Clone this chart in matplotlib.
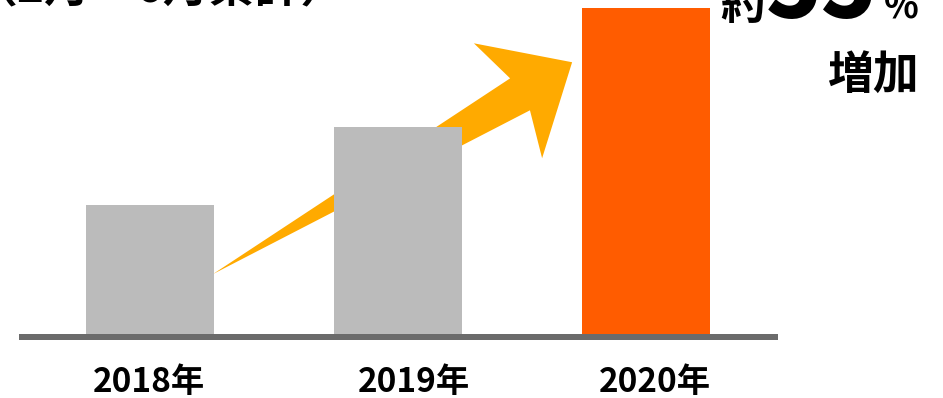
import matplotlib
matplotlib.use("Agg")
import matplotlib.pyplot as plt
from matplotlib.patches import Polygon
from matplotlib.transforms import ScaledTranslation

plt.rcParams['font.family'] = ['Noto Sans CJK JP', 'DejaVu Sans']

# data
years = ["2018年", "2019年", "2020年"]
values = [100, 161, 253]
bar_colors = ["#BBBBBB", "#BBBBBB", "#FF5C00"]
title = "（2月〜6月累計）"
growth_prefix = "約"
growth_number = "55"
growth_unit = "%"
growth_word = "増加"

W, H = 943, 398
fig = plt.figure(figsize=(W / 100, H / 100), dpi=100)


def fx(px):
    return px / W


def fy(py):
    return 1 - py / H


# axes spans the baseline (y=334 px) up to the tallest bar top (y=8 px)
ax = fig.add_axes([fx(22), fy(334), fx(775 - 22), (334 - 8) / H])
x = list(range(len(years)))
ax.bar(x, values, width=0.516, color=bar_colors, zorder=3)
ax.set_xlim(-0.516, 2.52)
ax.set_ylim(0, max(values))

for s in ("top", "right", "left"):
    ax.spines[s].set_visible(False)
ax.spines["bottom"].set_color("#6B6B6B")
ax.spines["bottom"].set_linewidth(6 * 0.72)
ax.spines["bottom"].set_position(("outward", 3 * 0.72))
ax.spines["bottom"].set_zorder(4)
ax.set_yticks([])
ax.set_xticks(x)
ax.set_xticklabels(years, fontsize=24, fontweight="bold")
ax.tick_params(axis="x", length=0, pad=21)

# small horizontal nudges of the year labels (pixels)
label_shift_px = [-1, 16, 9]
for lbl, dx in zip(ax.get_xticklabels(), label_shift_px):
    lbl.set_transform(lbl.get_transform()
                      + ScaledTranslation(dx / 100, 0, fig.dpi_scale_trans))

# rising arrow from the 2018 bar towards the 2020 bar (axes data units)
arrow_shape = [
    (0.254, 46.5),   # tail point
    (1.452, 198.4),  # upper notch
    (1.306, 225.6),  # upper barb
    (1.702, 210.9),  # tip
    (1.581, 136.4),  # lower barb
    (1.532, 173.6),  # lower notch
]
ax.add_patch(Polygon(arrow_shape, closed=True, facecolor="#FFAA00",
                     edgecolor="none", zorder=2))

# heading and growth annotation
fig.text(fx(-28), fy(1), title, fontsize=33, fontweight="bold",
         ha="left", va="baseline")
fig.text(fx(720), fy(19), growth_prefix, fontsize=32, fontweight="bold",
         ha="left", va="baseline")
fig.text(fx(766), fy(18), growth_number, fontsize=66, fontweight="heavy",
         ha="left", va="baseline")
fig.text(fx(884), fy(17), growth_unit, fontsize=26, fontweight="bold",
         ha="left", va="baseline")
fig.text(fx(919), fy(89), growth_word, fontsize=33, fontweight="bold",
         ha="right", va="baseline")

fig.savefig("out.png", dpi=100, facecolor="white")
